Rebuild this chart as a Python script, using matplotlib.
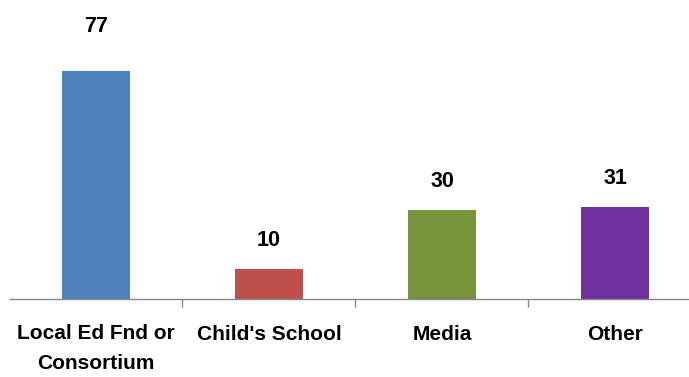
import matplotlib
matplotlib.use("Agg")
import matplotlib.pyplot as plt
from matplotlib import font_manager

categories = ["Local Ed Fnd or\nConsortium", "Child's School", "Media", "Other"]
values = [77, 10, 30, 31]
colors = ["#4f81bd", "#c0504d", "#77933c", "#7030a0"]
label_offsets_px = [44, 29, 29, 29]

names = {f.name for f in font_manager.fontManager.ttflist}
fam = "Liberation Sans Narrow" if "Liberation Sans Narrow" in names else "Liberation Sans"
plt.rcParams['font.family'] = [fam, 'DejaVu Sans']

W, H = 689, 377
fig = plt.figure(figsize=(W/100, H/100), dpi=100)
left_px, right_px = 9.5, 701.5
axis_y = 299
top_px = 71  # top of the 77 bar
ax = fig.add_axes([left_px/W, (H-axis_y)/H, (right_px-left_px)/W, (axis_y-top_px)/H])
x = list(range(len(values)))
ax.bar(x, values, width=0.395, color=colors)
ax.set_xlim(-0.5, len(values)-0.5)
ax.set_ylim(0, 77)

for xi, v, off in zip(x, values, label_offsets_px):
    ax.annotate(str(v), (xi, v), xytext=(0, off*0.72), textcoords='offset points',
                ha='center', va='center', fontsize=15.5, fontweight='bold', annotation_clip=False)

for s in ['top', 'right', 'left']:
    ax.spines[s].set_visible(False)
ax.spines['bottom'].set_color('#868686')
ax.spines['bottom'].set_linewidth(1.0)
ax.set_yticks([])
ax.set_xticks([0.5, 1.5, 2.5])
ax.set_xticklabels([])
ax.tick_params(axis='x', length=6, color='#868686', width=1.0, direction='out')
for xi, c in zip(x, categories):
    center = 348.5 if '\n' in c else 334
    ax.annotate(c, (xi, 0), xytext=(0, -(center-axis_y)*0.72), textcoords='offset points',
                ha='center', va='center', fontsize=15, fontweight='bold',
                linespacing=1.75, annotation_clip=False)

fig.savefig("out.png", dpi=100)
